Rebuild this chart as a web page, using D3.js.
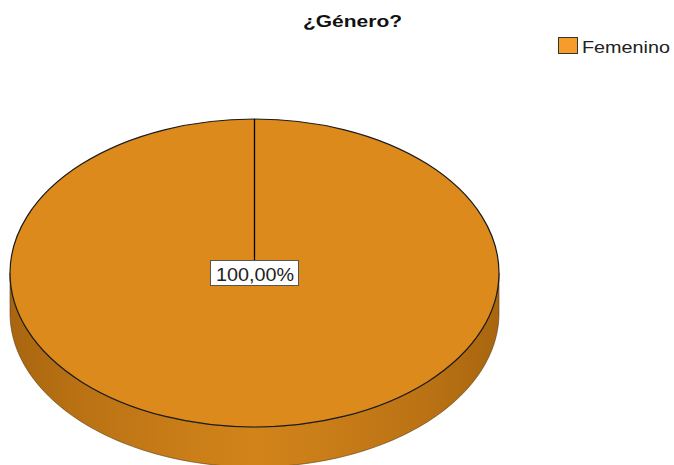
<!DOCTYPE html>
<html><head><meta charset="utf-8">
<script src="https://cdn.jsdelivr.net/npm/d3@7"></script>
<style>html,body{margin:0;padding:0;background:#fff;overflow:hidden}</style>
</head><body>
<svg id="c" width="674" height="465"></svg>
<script>
const categories = ["Femenino"];
const values = [100];
const labels = ["100,00%"];
const title = "¿Género?";
const colors = ["#DD8A1C"];
const legendColors = ["#F59C2A"];

(function(){
const svg = d3.select("#c");
const font = "'Liberation Sans', Arial, sans-serif";
const cx = 254.5, cy = 273, rx = 244.5, ry = 154, depth = 40;
const sy = ry / rx;

const defs = svg.append("defs");
const g1 = defs.append("linearGradient").attr("id","side").attr("x1","0").attr("x2","1").attr("y1","0").attr("y2","0");
[["0%","#A9660F"],["15%","#BA7214"],["35%","#C97D18"],["50%","#D2841A"],["65%","#C97D18"],["85%","#BA7214"],["100%","#A9660F"]]
  .forEach(([o,c]) => g1.append("stop").attr("offset",o).attr("stop-color",c));

const pie = d3.pie().sort(null).value(d => d);
const arcs = pie(values);
const arc = d3.arc().innerRadius(0).outerRadius(rx);

// side (front half of the disc)
const sidePath = d3.path();
const N = 120;
for (let i = 0; i <= N; i++) {
  const a = Math.PI * i / N;
  const x = cx + rx * Math.cos(a), y = cy + ry * Math.sin(a);
  if (i === 0) sidePath.moveTo(x, y); else sidePath.lineTo(x, y);
}
for (let i = N; i >= 0; i--) {
  const a = Math.PI * i / N;
  sidePath.lineTo(cx + rx * Math.cos(a), cy + depth + ry * Math.sin(a));
}
sidePath.closePath();
svg.append("path").attr("d", sidePath.toString()).attr("fill", "url(#side)")
  .attr("stroke", "#5a3a10").attr("stroke-width", 0.6);

// top face
const face = svg.append("g").attr("transform", `translate(${cx},${cy}) scale(1,${sy})`);
face.selectAll("path").data(arcs).join("path")
  .attr("d", arc)
  .attr("fill", (d,i) => colors[i])
  .attr("stroke", "#1a1a1a").attr("stroke-width", 1.2)
  .attr("vector-effect", "non-scaling-stroke");
arcs.forEach(d => {
  face.append("line").attr("x1",0).attr("y1",0)
    .attr("x2", rx*Math.sin(d.startAngle)).attr("y2", -rx*Math.cos(d.startAngle))
    .attr("stroke","#000").attr("stroke-width",1.3).attr("vector-effect","non-scaling-stroke");
});

// label
arcs.forEach((d,i) => {
  svg.append("rect").attr("x", 210.5).attr("y", 260.5).attr("width", 88).attr("height", 25)
    .attr("fill","#fff").attr("stroke","#555").attr("stroke-width",1);
  svg.append("text").attr("x", 216).attr("y", 280.5)
    .attr("font-family",font).attr("font-size",19).attr("fill","#222")
    .attr("textLength",78).attr("lengthAdjust","spacingAndGlyphs")
    .text(labels[i]);
});

// title
svg.append("text").attr("x", 303).attr("y", 27)
  .attr("font-family",font).attr("font-weight","bold").attr("font-size",17).attr("fill","#111")
  .attr("textLength",99).attr("lengthAdjust","spacingAndGlyphs").text(title);

// legend
const lg = svg.append("g").attr("transform","translate(558,37)");
categories.forEach((c,i) => {
  lg.append("rect").attr("x",0.5).attr("y",0.5 + i*20).attr("width",19).attr("height",16)
    .attr("fill",legendColors[i]).attr("stroke","#333").attr("stroke-width",1);
  lg.append("text").attr("x",24).attr("y",15.5 + i*20).attr("font-family",font).attr("font-size",17)
    .attr("fill","#222").attr("textLength",88).attr("lengthAdjust","spacingAndGlyphs").text(c);
});
})();
</script>
</body></html>
